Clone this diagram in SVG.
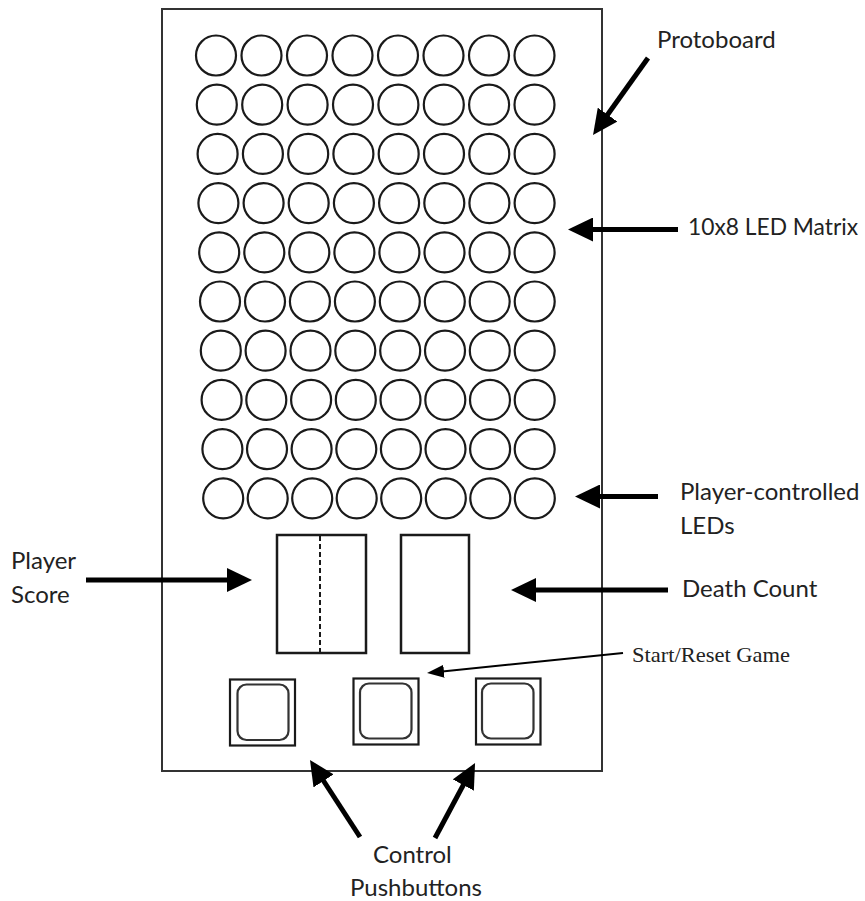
<svg xmlns="http://www.w3.org/2000/svg" width="865" height="901" viewBox="0 0 865 901">
<style>
.board{fill:#fff;stroke:#333;stroke-width:2}
.led{fill:#fff;stroke:#1a1a1a;stroke-width:2.2}
.disp{fill:#fff;stroke:#1a1a1a;stroke-width:2.5}
.dash{stroke:#1a1a1a;stroke-width:2;stroke-dasharray:5 3}
.btn{fill:#fff;stroke:#1a1a1a;stroke-width:2.2}
.cap{fill:#fff;stroke:#333;stroke-width:2.2}
.thick{stroke:#000;stroke-width:5;fill:none}
.thin{stroke:#000;stroke-width:2;fill:none}
.lbl{font-family:Lato,"Open Sans",sans-serif;font-size:24px;fill:#222}
.ser{font-family:"Liberation Serif","Times New Roman",serif;font-size:22px;fill:#222}
</style>
<defs>
<marker id="big" markerUnits="userSpaceOnUse" markerWidth="25" markerHeight="24" viewBox="0 0 25 24" refX="13" refY="12" orient="auto">
<path d="M0,0 L25,12 L0,24 Z" fill="#000"/>
</marker>
<marker id="small" markerUnits="userSpaceOnUse" markerWidth="17" markerHeight="13" viewBox="0 0 17 13" refX="9" refY="6.5" orient="auto">
<path d="M0,0 L17,6.5 L0,13 Z" fill="#000"/>
</marker>
</defs>
<rect width="865" height="901" fill="#fff"/>
<g id="protoboard">
<rect class="board" x="162" y="9" width="440" height="762"/>
</g>
<g id="led-matrix">
<g><circle class="led" cx="216" cy="55.5" r="20"/><circle class="led" cx="261.5" cy="55.5" r="20"/><circle class="led" cx="307" cy="55.5" r="20"/><circle class="led" cx="352.5" cy="55.5" r="20"/><circle class="led" cx="398" cy="55.5" r="20"/><circle class="led" cx="443.5" cy="55.5" r="20"/><circle class="led" cx="489" cy="55.5" r="20"/><circle class="led" cx="534.5" cy="55.5" r="20"/></g>
<g><circle class="led" cx="216.8" cy="104.7" r="20"/><circle class="led" cx="262.2" cy="104.7" r="20"/><circle class="led" cx="307.6" cy="104.7" r="20"/><circle class="led" cx="353" cy="104.7" r="20"/><circle class="led" cx="398.4" cy="104.7" r="20"/><circle class="led" cx="443.8" cy="104.7" r="20"/><circle class="led" cx="489.1" cy="104.7" r="20"/><circle class="led" cx="534.5" cy="104.7" r="20"/></g>
<g><circle class="led" cx="217.6" cy="153.9" r="20"/><circle class="led" cx="262.9" cy="153.9" r="20"/><circle class="led" cx="308.2" cy="153.9" r="20"/><circle class="led" cx="353.4" cy="153.9" r="20"/><circle class="led" cx="398.7" cy="153.9" r="20"/><circle class="led" cx="444" cy="153.9" r="20"/><circle class="led" cx="489.3" cy="153.9" r="20"/><circle class="led" cx="534.6" cy="153.9" r="20"/></g>
<g><circle class="led" cx="218.4" cy="203.1" r="20"/><circle class="led" cx="263.6" cy="203.1" r="20"/><circle class="led" cx="308.7" cy="203.1" r="20"/><circle class="led" cx="353.9" cy="203.1" r="20"/><circle class="led" cx="399.1" cy="203.1" r="20"/><circle class="led" cx="444.3" cy="203.1" r="20"/><circle class="led" cx="489.4" cy="203.1" r="20"/><circle class="led" cx="534.6" cy="203.1" r="20"/></g>
<g><circle class="led" cx="219.2" cy="252.3" r="20"/><circle class="led" cx="264.3" cy="252.3" r="20"/><circle class="led" cx="309.3" cy="252.3" r="20"/><circle class="led" cx="354.4" cy="252.3" r="20"/><circle class="led" cx="399.4" cy="252.3" r="20"/><circle class="led" cx="444.5" cy="252.3" r="20"/><circle class="led" cx="489.6" cy="252.3" r="20"/><circle class="led" cx="534.6" cy="252.3" r="20"/></g>
<g><circle class="led" cx="220" cy="301.5" r="20"/><circle class="led" cx="265" cy="301.5" r="20"/><circle class="led" cx="309.9" cy="301.5" r="20"/><circle class="led" cx="354.9" cy="301.5" r="20"/><circle class="led" cx="399.8" cy="301.5" r="20"/><circle class="led" cx="444.8" cy="301.5" r="20"/><circle class="led" cx="489.7" cy="301.5" r="20"/><circle class="led" cx="534.7" cy="301.5" r="20"/></g>
<g><circle class="led" cx="220.8" cy="350.7" r="20"/><circle class="led" cx="265.6" cy="350.7" r="20"/><circle class="led" cx="310.5" cy="350.7" r="20"/><circle class="led" cx="355.3" cy="350.7" r="20"/><circle class="led" cx="400.2" cy="350.7" r="20"/><circle class="led" cx="445" cy="350.7" r="20"/><circle class="led" cx="489.8" cy="350.7" r="20"/><circle class="led" cx="534.7" cy="350.7" r="20"/></g>
<g><circle class="led" cx="221.6" cy="399.9" r="20"/><circle class="led" cx="266.3" cy="399.9" r="20"/><circle class="led" cx="311.1" cy="399.9" r="20"/><circle class="led" cx="355.8" cy="399.9" r="20"/><circle class="led" cx="400.5" cy="399.9" r="20"/><circle class="led" cx="445.3" cy="399.9" r="20"/><circle class="led" cx="490" cy="399.9" r="20"/><circle class="led" cx="534.7" cy="399.9" r="20"/></g>
<g><circle class="led" cx="222.4" cy="449.1" r="20"/><circle class="led" cx="267" cy="449.1" r="20"/><circle class="led" cx="311.6" cy="449.1" r="20"/><circle class="led" cx="356.3" cy="449.1" r="20"/><circle class="led" cx="400.9" cy="449.1" r="20"/><circle class="led" cx="445.5" cy="449.1" r="20"/><circle class="led" cx="490.1" cy="449.1" r="20"/><circle class="led" cx="534.7" cy="449.1" r="20"/></g>
<g id="player-leds"><circle class="led" cx="223.2" cy="498.3" r="20"/><circle class="led" cx="267.7" cy="498.3" r="20"/><circle class="led" cx="312.2" cy="498.3" r="20"/><circle class="led" cx="356.7" cy="498.3" r="20"/><circle class="led" cx="401.2" cy="498.3" r="20"/><circle class="led" cx="445.8" cy="498.3" r="20"/><circle class="led" cx="490.3" cy="498.3" r="20"/><circle class="led" cx="534.8" cy="498.3" r="20"/></g>
</g>
<g id="player-score">
<rect class="disp" x="277" y="535" width="89" height="118"/>
<line class="dash" x1="320" y1="536" x2="320" y2="652"/>
</g>
<g id="death-count">
<rect class="disp" x="401" y="535" width="68" height="118"/>
</g>
<g id="button-1">
<rect class="btn" x="230" y="679.5" width="65" height="66"/>
<rect class="cap" x="237.5" y="684.5" width="51" height="55.5" rx="9"/>
</g>
<g id="button-2">
<rect class="btn" x="353.5" y="678.5" width="65" height="66"/>
<rect class="cap" x="360" y="683.5" width="51.5" height="55" rx="9"/>
</g>
<g id="button-3">
<rect class="btn" x="476" y="678.5" width="64.5" height="66"/>
<rect class="cap" x="482" y="683.5" width="51.5" height="55" rx="9"/>
</g>
<g id="connectors">
<line class="thick" x1="648" y1="58" x2="600" y2="125.2" marker-end="url(#big)"/>
<line class="thick" x1="678" y1="229.5" x2="580" y2="229.5" marker-end="url(#big)"/>
<line class="thick" x1="658" y1="496.5" x2="587" y2="496.5" marker-end="url(#big)"/>
<line class="thick" x1="668" y1="590" x2="523" y2="590" marker-end="url(#big)"/>
<line class="thick" x1="86" y1="580" x2="240" y2="580" marker-end="url(#big)"/>
<line class="thick" x1="360" y1="837" x2="316.5" y2="770" marker-end="url(#big)"/>
<line class="thick" x1="435" y1="838" x2="469.4" y2="773.6" marker-end="url(#big)"/>
<line class="thin" x1="623" y1="653" x2="435" y2="672.2" marker-end="url(#small)"/>
</g>
<g id="labels">
<text class="lbl" x="657" y="48">Protoboard</text>
<text class="lbl" x="688" y="235" style="font-size:23px" textLength="170" lengthAdjust="spacingAndGlyphs">10x8 LED Matrix</text>
<text class="lbl" x="680" y="500">Player-controlled</text>
<text class="lbl" x="680" y="534">LEDs</text>
<text class="lbl" x="682" y="597">Death Count</text>
<text class="lbl" x="11" y="569">Player</text>
<text class="lbl" x="11" y="603">Score</text>
<text class="ser" x="632" y="662" textLength="158" lengthAdjust="spacingAndGlyphs">Start/Reset Game</text>
<text class="lbl" x="373" y="863">Control</text>
<text class="lbl" x="350" y="896">Pushbuttons</text>
</g>
</svg>
